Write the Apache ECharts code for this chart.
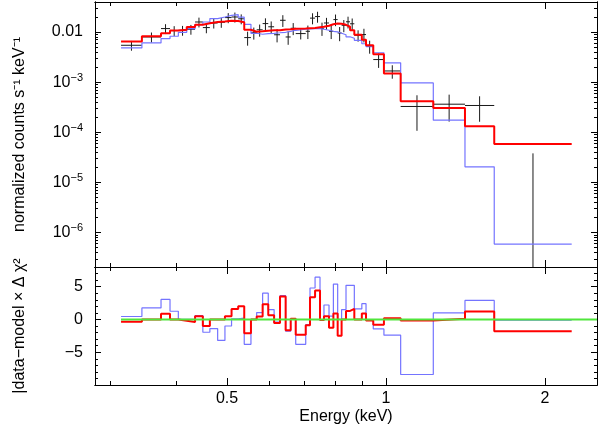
<!DOCTYPE html>
<html>
<head>
<meta charset="utf-8">
<script src="https://cdn.jsdelivr.net/npm/echarts@6/dist/echarts.min.js"></script>
<style>
html, body { margin: 0; padding: 0; background: #fff; }
#chart { width: 598px; height: 427px; }
</style>
</head>
<body>
<div id="chart"></div>
<script>
// energy bin edges (keV)
var binEdges = [0.315, 0.345, 0.375, 0.390, 0.4044, 0.4195, 0.435, 0.450, 0.464, 0.480,
  0.4955, 0.510, 0.525, 0.539, 0.555, 0.569, 0.584, 0.5985, 0.614, 0.630,
  0.6456, 0.660, 0.6746, 0.7047, 0.718, 0.734, 0.750, 0.763, 0.780, 0.795,
  0.810, 0.824, 0.840, 0.855, 0.871, 0.900, 0.9166, 0.946, 0.991, 1.066,
  1.229, 1.411, 1.603, 2.247];

// data, counts s-1 keV-1
var dataVal = [0.00543, 0.00795, 0.01169, 0.01066, 0.01081, 0.01132, 0.01582, 0.01223, 0.01511, 0.0156,
  0.01936, 0.0199, 0.01832, 0.00773, 0.00964, 0.01106, 0.0147, 0.0127, 0.0088, 0.0171,
  0.00795, 0.01185, 0.00929, 0.01032, 0.0189, 0.0203, 0.01185, 0.01511, 0.01032, 0.01766,
  0.00955, 0.0136, 0.01597, 0.01457, 0.0086, 0.00888, 0.00519, 0.00282, 0.00167, 0.000327,
  0.000363, 0.000342, 0];
var dataErr = [0.0012, 0.0018, 0.0026, 0.0024, 0.0024, 0.0025, 0.0035, 0.0028, 0.0034, 0.0035,
  0.0044, 0.0045, 0.0041, 0.0024, 0.0026, 0.0030, 0.0040, 0.0035, 0.0026, 0.0045,
  0.0024, 0.0032, 0.0022, 0.0031, 0.0047, 0.0050, 0.0035, 0.0040, 0.0031, 0.0046,
  0.0030, 0.0037, 0.0042, 0.0040, 0.0022, 0.0027, 0.0015, 0.0009, 0.0005, 0.00022,
  0.00020, 0.00018, 0.000038];

// folded models
var modelRed = [0.00644, 0.00821, 0.00942, 0.01066, 0.01106, 0.01252, 0.01391, 0.01490, 0.01582, 0.01611,
  0.01671, 0.01648, 0.0156, 0.01106, 0.01009, 0.01032, 0.01057, 0.01081, 0.01081, 0.01116,
  0.01132, 0.01158, 0.01169, 0.01185, 0.01201, 0.01240, 0.0127, 0.01329, 0.01423, 0.0147,
  0.01457, 0.01391, 0.0127, 0.01081, 0.0088, 0.00699, 0.00543, 0.00360, 0.00148, 0.000416,
  0.000306, 0.000132, 0.0000587];
var modelBlue = [0.0048, 0.00604, 0.00739, 0.00821, 0.00986, 0.01169, 0.01404, 0.01582, 0.01849, 0.0199,
  0.0215, 0.02222, 0.0197, 0.01423, 0.00942, 0.009, 0.00929, 0.00942, 0.00964, 0.00986,
  0.01032, 0.01081, 0.01132, 0.01158, 0.01169, 0.01169, 0.01132, 0.01081, 0.01032, 0.01009,
  0.00942, 0.0088, 0.00802, 0.00749, 0.00683, 0.00582, 0.00507, 0.00385, 0.00243, 0.000964,
  0.000174, 0.0000205, 0.00000059];

// residuals
var resRed = [-0.35, 0, 0.86, 0, -0.2, -0.4, 0.5, -1.0, 0, 0,
  0.5, 1.6, 2.0, -2.1, 0, 0.45, 2.3, 0.65, -0.55, 3.5,
  -1.65, 0.1, -2.35, -0.9, 3.4, 4.4, -0.1, 0.5, -1.25, 0.9,
  -2.5, 0, 1.3, 1.6, 0, 0.9, -0.15, -0.8, 0.2, -0.15,
  0.1, 1.2, -1.8];
var resBlue = [0.45, 1.75, 3.05, 1.25, 0, 0, 0.6, -1.95, -1.4, -3.2,
  -1.0, 0.1, 0.2, -3.8, 0, 1.05, 4.0, 1.5, -0.4, 3.65,
  -1.8, 0, -3.8, -0.8, 4.8, 6.45, -0.1, 2.2, 0.5, 5.4,
  0, 1.5, 5.2, 5.2, 1.6, 2.4, -0.1, -1.45, -2.4, -8.4,
  1.0, 2.9, -0.1];

// axes
var X_MIN = 0.2812, X_MAX = 2.509;
var Y_MIN = 2.06e-7, Y_MAX = 0.0396;
var R_MIN = -10, R_MAX = 8;
var xLabelTicks = [0.5, 1, 2];
var xMinorTicks = [0.3, 0.4, 0.6, 0.7, 0.8, 0.9];
var yLabelTicks = [1e-6, 1e-5, 1e-4, 1e-3, 0.01];
var resLabelTicks = [-5, 0, 5];
var resMinorTicks = [-9, -8, -7, -6, -4, -3, -2, -1, 1, 2, 3, 4, 6, 7];

var yMinorTicks = [];
for (var k = -7; k <= -2; k++) {
  for (var m = 2; m <= 9; m++) {
    var t = m * Math.pow(10, k);
    if (t > Y_MIN && t < Y_MAX) yMinorTicks.push(t);
  }
}

var FONT = 'Liberation Sans, Arial, sans-serif';

function stepPoints(vals) {
  var pts = [];
  for (var i = 0; i < vals.length; i++) pts.push([binEdges[i], vals[i]]);
  pts.push([binEdges[vals.length], vals[vals.length - 1]]);
  return pts;
}

var crossData = [];
for (var i = 0; i < dataVal.length; i++) {
  crossData.push([binEdges[i], binEdges[i + 1], dataVal[i], dataErr[i]]);
}

function xAxis(grid, pos, ticks, len, labels) {
  return {
    type: 'log', logBase: 2, gridIndex: grid, position: pos, min: X_MIN, max: X_MAX,
    axisLine: { show: true, onZero: false, lineStyle: { color: '#000', width: 1 } },
    axisTick: { show: true, inside: true, length: len, customValues: ticks, lineStyle: { color: '#000' } },
    axisLabel: labels ? { show: true, customValues: xLabelTicks, margin: 6, color: '#000', fontSize: 16, fontFamily: FONT } : { show: false },
    splitLine: { show: false },
    name: labels ? 'Energy (keV)' : '',
    nameLocation: 'middle', nameGap: 24,
    nameTextStyle: { color: '#000', fontSize: 16, fontFamily: FONT, verticalAlign: 'top' }
  };
}

function yLogAxis(pos, ticks, len, labels) {
  return {
    type: 'log', logBase: 10, gridIndex: 0, position: pos, min: Y_MIN, max: Y_MAX,
    axisLine: { show: true, lineStyle: { color: '#000', width: 1 } },
    axisTick: { show: true, inside: true, length: len, customValues: ticks, lineStyle: { color: '#000' } },
    axisLabel: labels ? {
      show: true, customValues: yLabelTicks, margin: 12, color: '#000', fontFamily: FONT,
      formatter: function (v) {
        if (v > 0.005) return '{b|0.01}';
        return '{b|10}{s|\u2212' + Math.round(-Math.log10(v)) + '}';
      },
      rich: {
        b: { fontSize: 16, lineHeight: 20, fontFamily: FONT, color: '#000' },
        s: { fontSize: 11, lineHeight: 11, fontFamily: FONT, color: '#000', verticalAlign: 'top' }
      }
    } : { show: false },
    splitLine: { show: false },
    name: labels ? 'normalized counts s\u207B\u00B9 keV\u207B\u00B9' : '',
    nameLocation: 'middle', nameGap: 67, nameRotate: 90,
    nameTextStyle: { color: '#000', fontSize: 16, fontFamily: FONT }
  };
}

function yResAxis(pos, ticks, len, labels) {
  return {
    type: 'value', gridIndex: 1, position: pos, min: R_MIN, max: R_MAX,
    axisLine: { show: true, onZero: false, lineStyle: { color: '#000', width: 1 } },
    axisTick: { show: true, inside: true, length: len, customValues: ticks, lineStyle: { color: '#000' } },
    axisLabel: labels ? {
      show: true, customValues: resLabelTicks, margin: 12, color: '#000', fontSize: 16, fontFamily: FONT,
      formatter: function (v) { return v < 0 ? '\u2212' + (-v) : String(v); }
    } : { show: false },
    splitLine: { show: false },
    name: labels ? '|data\u2212model \u00D7 \u0394 \u03C7\u00B2' : '',
    nameLocation: 'middle', nameGap: 67, nameRotate: 90,
    nameTextStyle: { color: '#000', fontSize: 16, fontFamily: FONT }
  };
}

var chart = echarts.init(document.getElementById('chart'), null, { renderer: 'canvas' });

chart.setOption({
  animation: false,
  backgroundColor: '#fff',
  grid: [
    { left: 95, top: 2, width: 502, height: 265 },
    { left: 95, top: 267, width: 502, height: 118 }
  ],
  xAxis: [
    xAxis(0, 'bottom', xLabelTicks, 7, false),   // 0
    xAxis(0, 'top', xLabelTicks, 7, false),      // 1
    xAxis(0, 'bottom', xMinorTicks, 4, false),   // 2
    xAxis(0, 'top', xMinorTicks, 4, false),      // 3
    xAxis(1, 'bottom', xLabelTicks, 7, true),    // 4
    xAxis(1, 'top', xLabelTicks, 7, false),      // 5
    xAxis(1, 'bottom', xMinorTicks, 4, false),   // 6
    xAxis(1, 'top', xMinorTicks, 4, false)       // 7
  ],
  yAxis: [
    yLogAxis('left', yLabelTicks, 6, true),      // 0
    yLogAxis('right', yLabelTicks, 6, false),    // 1
    yLogAxis('left', yMinorTicks, 3, false),     // 2
    yLogAxis('right', yMinorTicks, 3, false),    // 3
    yResAxis('left', resLabelTicks, 6, true),    // 4
    yResAxis('right', resLabelTicks, 6, false),  // 5
    yResAxis('left', resMinorTicks, 3, false),   // 6
    yResAxis('right', resMinorTicks, 3, false)   // 7
  ],
  series: [
    {
      name: 'model2', type: 'line', xAxisIndex: 0, yAxisIndex: 0, step: 'end',
      data: stepPoints(modelBlue), showSymbol: false, clip: true,
      lineStyle: { color: '#7474ff', width: 1.2 }
    },
    {
      name: 'model1', type: 'line', xAxisIndex: 0, yAxisIndex: 0, step: 'end',
      data: stepPoints(modelRed), showSymbol: false, clip: true,
      lineStyle: { color: '#ff0000', width: 2 }
    },
    {
      name: 'data', type: 'custom', xAxisIndex: 0, yAxisIndex: 0, clip: true,
      data: crossData,
      encode: { x: [0, 1], y: 2 },
      renderItem: function (params, api) {
        var lo = api.value(0), hi = api.value(1), v = api.value(2), e = api.value(3);
        var xc = Math.sqrt(lo * hi);
        var kids = [];
        var style = { stroke: '#1a1a1a', lineWidth: 1 };
        if (v > 0) {
          var a = api.coord([lo, v]), b = api.coord([hi, v]);
          kids.push({ type: 'line', shape: { x1: a[0], y1: a[1], x2: b[0], y2: b[1] }, style: style });
        }
        var top = api.coord([xc, v + e]);
        var bot = api.coord([xc, Math.max(v - e, Y_MIN)]);
        kids.push({ type: 'line', shape: { x1: top[0], y1: top[1], x2: bot[0], y2: bot[1] }, style: style });
        return { type: 'group', children: kids };
      }
    },
    {
      name: 'res2', type: 'line', xAxisIndex: 4, yAxisIndex: 4, step: 'end',
      data: stepPoints(resBlue), showSymbol: false,
      lineStyle: { color: '#7474ff', width: 1.2 }
    },
    {
      name: 'res1', type: 'line', xAxisIndex: 4, yAxisIndex: 4, step: 'end',
      data: stepPoints(resRed), showSymbol: false,
      lineStyle: { color: '#ff0000', width: 2 }
    },
    {
      name: 'zero', type: 'line', xAxisIndex: 4, yAxisIndex: 4,
      data: [[binEdges[0], 0], [X_MAX, 0]], showSymbol: false,
      lineStyle: { color: '#50e63c', width: 2 }
    }
  ]
});
</script>
</body>
</html>
